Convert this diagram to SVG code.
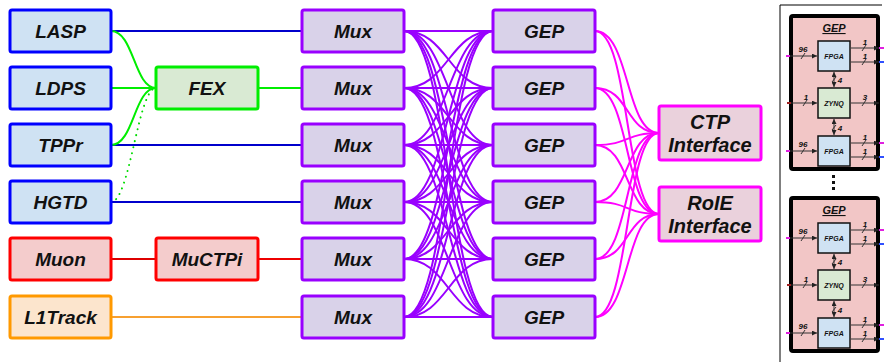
<svg xmlns="http://www.w3.org/2000/svg" width="885" height="362" viewBox="0 0 885 362">
  <style>
    .lbl { font-family: "Liberation Sans", Arial, sans-serif; font-weight: bold; font-style: italic; font-size: 19px; fill: #111; text-anchor: middle; }
    .big { font-size: 20px; }
    .box { stroke-width: 3; }
    .blue { fill: #cfe2f3; stroke: #0000ff; }
    .green { fill: #d9ead3; stroke: #00ee00; }
    .red { fill: #f4cccc; stroke: #ff0000; }
    .orange { fill: #fce5cd; stroke: #ff9900; }
    .purple { fill: #d9d2e9; stroke: #9900ff; }
    .pink { fill: #ead1dc; stroke: #ff00ff; }
    .wire { fill: none; stroke-width: 2; }
    .mesh path { fill: none; stroke: #9900ff; stroke-width: 2; }
    .out path { fill: none; stroke: #ff00ff; stroke-width: 2; }
    .sm { font-family: "Liberation Sans", Arial, sans-serif; font-weight: bold; font-style: italic; fill: #111; text-anchor: middle; }
    .chip { stroke: #111; stroke-width: 1.5; }
    .arr { stroke: #333; stroke-width: 1; fill: none; }
  </style>
  <defs>
    <marker id="ah" viewBox="0 0 6 6" refX="6" refY="3" markerWidth="5" markerHeight="5" orient="auto-start-reverse">
      <path d="M0,0 L6,3 L0,6 Z" fill="#222"/>
    </marker>
    <g id="gepCard">
      <rect x="791" y="16" width="87" height="153" rx="2" fill="#f2c6c6" stroke="#000" stroke-width="4"/>
      <text class="sm" x="834" y="32" font-size="11" text-decoration="underline">GEP</text>
      <!-- FPGA top -->
      <rect class="chip" x="818" y="41" width="32" height="30" fill="#cfe2f3"/>
      <text class="sm" x="834" y="59" font-size="7">FPGA</text>
      <!-- ZYNQ -->
      <rect class="chip" x="818" y="88" width="32" height="30" fill="#d9ead3"/>
      <text class="sm" x="834" y="106" font-size="7">ZYNQ</text>
      <!-- FPGA bottom -->
      <rect class="chip" x="818" y="136" width="32" height="30" fill="#cfe2f3"/>
      <text class="sm" x="834" y="154" font-size="7">FPGA</text>
      <!-- inputs -->
      <line x1="786" y1="56" x2="790" y2="56" stroke="#e020e0" stroke-width="2"/>
      <line class="arr" x1="790" y1="56" x2="817" y2="56" marker-end="url(#ah)"/>
      <line class="arr" x1="801" y1="59" x2="805" y2="53"/>
      <text class="sm" x="803" y="52" font-size="8">96</text>
      <line x1="786" y1="151" x2="790" y2="151" stroke="#e020e0" stroke-width="2"/>
      <line class="arr" x1="790" y1="151" x2="817" y2="151" marker-end="url(#ah)"/>
      <line class="arr" x1="801" y1="154" x2="805" y2="148"/>
      <text class="sm" x="803" y="147" font-size="8">96</text>
      <line x1="787" y1="103" x2="791" y2="103" stroke="#a02020" stroke-width="2"/>
      <line class="arr" x1="791" y1="103" x2="817" y2="103" marker-end="url(#ah)"/>
      <line class="arr" x1="803" y1="106" x2="807" y2="100"/>
      <text class="sm" x="806" y="100" font-size="8">1</text>
      <!-- outputs -->
      <line class="arr" x1="851" y1="48" x2="879" y2="48" marker-end="url(#ah)"/>
      <line class="arr" x1="862" y1="51" x2="866" y2="45"/>
      <text class="sm" x="865" y="45" font-size="8">1</text>
      <line x1="879" y1="48" x2="884" y2="48" stroke="#e020e0" stroke-width="2"/>
      <line class="arr" x1="851" y1="62" x2="879" y2="62" marker-end="url(#ah)"/>
      <line class="arr" x1="862" y1="65" x2="866" y2="59"/>
      <text class="sm" x="865" y="59" font-size="8">1</text>
      <line x1="879" y1="62" x2="884" y2="62" stroke="#3050ff" stroke-width="2"/>
      <line class="arr" x1="851" y1="103" x2="879" y2="103" marker-end="url(#ah)"/>
      <line class="arr" x1="862" y1="106" x2="866" y2="100"/>
      <text class="sm" x="865" y="100" font-size="8">3</text>
      <line class="arr" x1="851" y1="143" x2="879" y2="143" marker-end="url(#ah)"/>
      <line class="arr" x1="862" y1="146" x2="866" y2="140"/>
      <text class="sm" x="865" y="140" font-size="8">1</text>
      <line x1="879" y1="143" x2="884" y2="143" stroke="#e020e0" stroke-width="2"/>
      <line class="arr" x1="851" y1="157" x2="879" y2="157" marker-end="url(#ah)"/>
      <line class="arr" x1="862" y1="160" x2="866" y2="154"/>
      <text class="sm" x="865" y="154" font-size="8">1</text>
      <line x1="879" y1="157" x2="884" y2="157" stroke="#3050ff" stroke-width="2"/>
      <!-- FPGA <-> ZYNQ links -->
      <line class="arr" x1="834" y1="72" x2="834" y2="87" marker-start="url(#ah)" marker-end="url(#ah)"/>
      <line class="arr" x1="832" y1="82" x2="836" y2="77"/>
      <text class="sm" x="840" y="83" font-size="8">4</text>
      <line class="arr" x1="834" y1="119" x2="834" y2="135" marker-start="url(#ah)" marker-end="url(#ah)"/>
      <line class="arr" x1="832" y1="130" x2="836" y2="125"/>
      <text class="sm" x="840" y="131" font-size="8">4</text>
    </g>
  </defs>

  <!-- connectors -->
  <g id="connectors">
    <!-- sources to Mux -->
    <path class="wire" stroke="#0000cc" d="M111,31 H302"/>
    <path class="wire" stroke="#0000cc" d="M111,145 H302"/>
    <path class="wire" stroke="#0000cc" d="M111,202 H302"/>
    <path class="wire" stroke="#00ee00" d="M258,88 H302"/>
    <path class="wire" stroke="#00ee00" d="M111,88 H156"/>
    <path class="wire" stroke="#00ee00" d="M111,31 C134,31 134,88 156,88"/>
    <path class="wire" stroke="#00ee00" d="M111,145 C134,145 134,88 156,88"/>
    <path class="wire" stroke="#00dd00" stroke-dasharray="0.1 6" stroke-linecap="round" stroke-width="3" d="M111,202 C130,202 138,88 156,88"/>
    <path class="wire" stroke="#dd0000" d="M111,259 H156"/>
    <path class="wire" stroke="#ee0000" d="M258,259 H302"/>
    <path class="wire" stroke="#f7a030" d="M111,317 H302"/>

    <!-- Mux to GEP full mesh -->
    <g class="mesh">
      <path d="M404,31 C448,31 449,31 493,31"/><path d="M404,31 C448,31 449,88 493,88"/><path d="M404,31 C448,31 449,145 493,145"/><path d="M404,31 C448,31 449,202 493,202"/><path d="M404,31 C448,31 449,259 493,259"/><path d="M404,31 C448,31 449,317 493,317"/>
      <path d="M404,88 C448,88 449,31 493,31"/><path d="M404,88 C448,88 449,88 493,88"/><path d="M404,88 C448,88 449,145 493,145"/><path d="M404,88 C448,88 449,202 493,202"/><path d="M404,88 C448,88 449,259 493,259"/><path d="M404,88 C448,88 449,317 493,317"/>
      <path d="M404,145 C448,145 449,31 493,31"/><path d="M404,145 C448,145 449,88 493,88"/><path d="M404,145 C448,145 449,145 493,145"/><path d="M404,145 C448,145 449,202 493,202"/><path d="M404,145 C448,145 449,259 493,259"/><path d="M404,145 C448,145 449,317 493,317"/>
      <path d="M404,202 C448,202 449,31 493,31"/><path d="M404,202 C448,202 449,88 493,88"/><path d="M404,202 C448,202 449,145 493,145"/><path d="M404,202 C448,202 449,202 493,202"/><path d="M404,202 C448,202 449,259 493,259"/><path d="M404,202 C448,202 449,317 493,317"/>
      <path d="M404,259 C448,259 449,31 493,31"/><path d="M404,259 C448,259 449,88 493,88"/><path d="M404,259 C448,259 449,145 493,145"/><path d="M404,259 C448,259 449,202 493,202"/><path d="M404,259 C448,259 449,259 493,259"/><path d="M404,259 C448,259 449,317 493,317"/>
      <path d="M404,317 C448,317 449,31 493,31"/><path d="M404,317 C448,317 449,88 493,88"/><path d="M404,317 C448,317 449,145 493,145"/><path d="M404,317 C448,317 449,202 493,202"/><path d="M404,317 C448,317 449,259 493,259"/><path d="M404,317 C448,317 449,317 493,317"/>
    </g>

    <!-- GEP to interfaces -->
    <g class="out">
      <path d="M595,31 C630,31 625,133 659,133"/><path d="M595,31 C630,31 625,214 659,214"/>
      <path d="M595,88 C630,88 625,133 659,133"/><path d="M595,88 C630,88 625,214 659,214"/>
      <path d="M595,145 C630,145 625,133 659,133"/><path d="M595,145 C630,145 625,214 659,214"/>
      <path d="M595,202 C630,202 625,133 659,133"/><path d="M595,202 C630,202 625,214 659,214"/>
      <path d="M595,259 C630,259 625,133 659,133"/><path d="M595,259 C630,259 625,214 659,214"/>
      <path d="M595,317 C630,317 625,133 659,133"/><path d="M595,317 C630,317 625,214 659,214"/>
    </g>
  </g>

  <!-- source systems -->
  <g id="lasp"><rect class="box blue" x="10" y="10" width="101" height="42" rx="2"/><text class="lbl" x="60.5" y="38">LASP</text></g>
  <g id="ldps"><rect class="box blue" x="10" y="67" width="101" height="42" rx="2"/><text class="lbl" x="60.5" y="95">LDPS</text></g>
  <g id="tppr"><rect class="box blue" x="10" y="124" width="101" height="42" rx="2"/><text class="lbl" x="60.5" y="152">TPPr</text></g>
  <g id="hgtd"><rect class="box blue" x="10" y="181" width="101" height="42" rx="2"/><text class="lbl" x="60.5" y="209">HGTD</text></g>
  <g id="muon"><rect class="box red" x="10" y="238" width="101" height="42" rx="2"/><text class="lbl" x="60.5" y="266">Muon</text></g>
  <g id="l1track"><rect class="box orange" x="10" y="296" width="101" height="42" rx="2"/><text class="lbl" x="60.5" y="324">L1Track</text></g>

  <!-- intermediate processors -->
  <g id="fex"><rect class="box green" x="156" y="67" width="102" height="42" rx="2"/><text class="lbl" x="207" y="95">FEX</text></g>
  <g id="muctpi"><rect class="box red" x="156" y="238" width="102" height="42" rx="2"/><text class="lbl" x="207" y="266">MuCTPi</text></g>

  <!-- multiplexers -->
  <g id="mux1"><rect class="box purple" x="302" y="10" width="102" height="42" rx="2"/><text class="lbl" x="353" y="38">Mux</text></g>
  <g id="mux2"><rect class="box purple" x="302" y="67" width="102" height="42" rx="2"/><text class="lbl" x="353" y="95">Mux</text></g>
  <g id="mux3"><rect class="box purple" x="302" y="124" width="102" height="42" rx="2"/><text class="lbl" x="353" y="152">Mux</text></g>
  <g id="mux4"><rect class="box purple" x="302" y="181" width="102" height="42" rx="2"/><text class="lbl" x="353" y="209">Mux</text></g>
  <g id="mux5"><rect class="box purple" x="302" y="238" width="102" height="42" rx="2"/><text class="lbl" x="353" y="266">Mux</text></g>
  <g id="mux6"><rect class="box purple" x="302" y="296" width="102" height="42" rx="2"/><text class="lbl" x="353" y="324">Mux</text></g>

  <!-- GEP boards -->
  <g id="gep1"><rect class="box purple" x="493" y="10" width="102" height="42" rx="2"/><text class="lbl" x="544" y="38">GEP</text></g>
  <g id="gep2"><rect class="box purple" x="493" y="67" width="102" height="42" rx="2"/><text class="lbl" x="544" y="95">GEP</text></g>
  <g id="gep3"><rect class="box purple" x="493" y="124" width="102" height="42" rx="2"/><text class="lbl" x="544" y="152">GEP</text></g>
  <g id="gep4"><rect class="box purple" x="493" y="181" width="102" height="42" rx="2"/><text class="lbl" x="544" y="209">GEP</text></g>
  <g id="gep5"><rect class="box purple" x="493" y="238" width="102" height="42" rx="2"/><text class="lbl" x="544" y="266">GEP</text></g>
  <g id="gep6"><rect class="box purple" x="493" y="296" width="102" height="42" rx="2"/><text class="lbl" x="544" y="324">GEP</text></g>

  <!-- output interfaces -->
  <g id="ctp"><rect class="box pink" x="659" y="106" width="102" height="54" rx="2"/><text class="lbl big" x="710" y="129">CTP</text><text class="lbl big" x="710" y="152">Interface</text></g>
  <g id="roie"><rect class="box pink" x="659" y="187" width="102" height="54" rx="2"/><text class="lbl big" x="710" y="210">RoIE</text><text class="lbl big" x="710" y="233">Interface</text></g>

  <!-- GEP board detail inset -->
  <g id="gep-detail">
    <path d="M882,5 H780 V362" fill="none" stroke="#000" stroke-width="1"/>
    <use href="#gepCard"/>
    <rect x="832" y="175" width="3" height="3" fill="#111"/>
    <rect x="832" y="181" width="3" height="3" fill="#111"/>
    <rect x="832" y="187" width="3" height="3" fill="#111"/>
    <use href="#gepCard" y="182"/>
  </g>
</svg>
